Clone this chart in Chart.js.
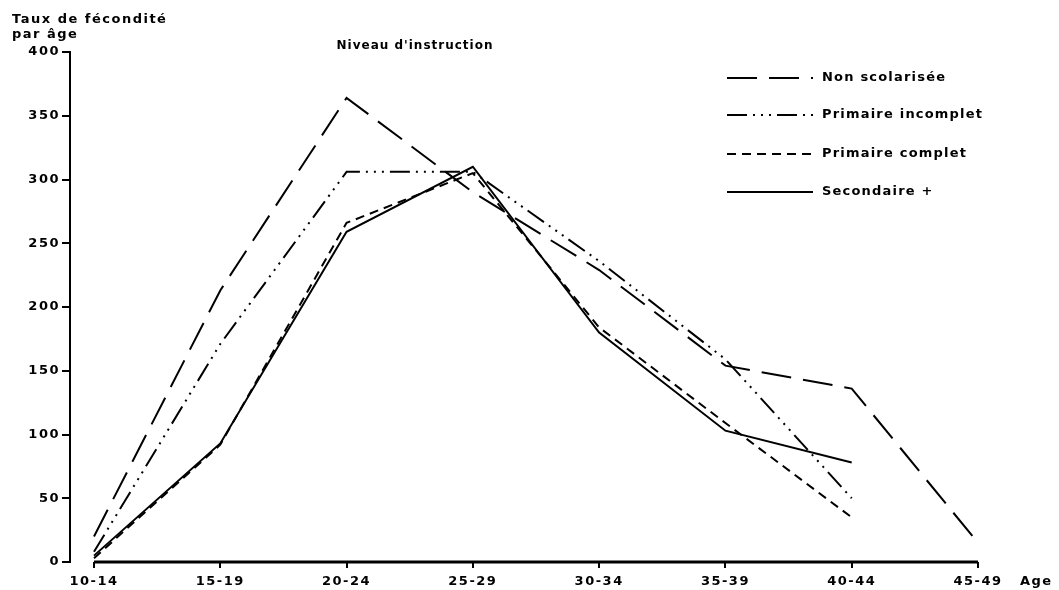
<!DOCTYPE html>
<html>
<head>
<meta charset="utf-8">
<script src="https://cdn.jsdelivr.net/npm/chart.js@4/dist/chart.umd.min.js"></script>
<style>
  body { margin: 0; background: #fff; }
</style>
</head>
<body>
<canvas id="fertChart" width="1059" height="590"></canvas>
<script>
const ageGroups = ["10-14", "15-19", "20-24", "25-29", "30-34", "35-39", "40-44", "45-49"];
const nonScolarisee = [20, 213, 364, 290, 229, 154, 136, 15];
const primaireIncomplet = [8, 171, 306, 306, 236, 159, 50, null];
const primaireComplet = [3, 92, 266, 305, 184, 109, 35, null];
const secondaire = [5, 93, 259, 310, 180, 103, 78, null];
const yTickValues = [0, 50, 100, 150, 200, 250, 300, 350, 400];

const FONT = "bold 13px 'DejaVu Sans'";

const toPoints = arr => arr.map((v, i) => ({ x: i, y: v }));

// petite légende + textes à la main (positions comme sur l'original)
const extras = {
  id: "extras",
  beforeDraw(chart) {
    chart.ctx.letterSpacing = "1.5px";
  },
  afterDraw(chart) {
    const c = chart.ctx;
    const xs = chart.scales.x;
    const ys = chart.scales.y;
    c.save();
    c.letterSpacing = "1.5px";
    c.fillStyle = "#000";
    c.strokeStyle = "#000";

    // axe des x (commence au premier groupe d'âge)
    c.lineWidth = 3;
    c.beginPath();
    c.moveTo(xs.getPixelForValue(0), ys.getPixelForValue(0));
    c.lineTo(xs.getPixelForValue(ageGroups.length - 1), ys.getPixelForValue(0));
    c.stroke();

    c.font = FONT;
    c.textBaseline = "middle";
    c.textAlign = "left";
    c.fillText("Taux de fécondité", 12, 20);
    c.fillText("par âge", 12, 35);
    c.fillText("Age", 1020, 582);
    c.font = "bold 12px 'DejaVu Sans'";
    c.letterSpacing = "1px";
    c.textAlign = "center";
    c.fillText("Niveau d'instruction", 415, 46);

    // légende
    c.font = FONT;
    c.letterSpacing = "1.2px";
    const rows = [78, 115, 154, 192];
    chart.data.datasets.forEach((ds, i) => {
      c.lineWidth = 2;
      c.setLineDash(ds.borderDash || []);
      c.beginPath();
      c.moveTo(727, rows[i]);
      c.lineTo(813, rows[i]);
      c.stroke();
      c.setLineDash([]);
      c.textAlign = "left";
      c.fillText(ds.label, 822, rows[i]);
    });
    c.restore();
  }
};

const lineStyle = {
  borderColor: "#000",
  borderWidth: 2,
  pointRadius: 0,
  fill: false,
  tension: 0,
  spanGaps: false
};

new Chart(document.getElementById("fertChart").getContext("2d"), {
  type: "line",
  data: {
    datasets: [
      { ...lineStyle, label: "Non scolarisée", data: toPoints(nonScolarisee), borderDash: [30, 12] },
      { ...lineStyle, label: "Primaire incomplet", data: toPoints(primaireIncomplet), borderDash: [20, 6, 2, 6, 2, 6, 2, 6] },
      { ...lineStyle, label: "Primaire complet", data: toPoints(primaireComplet), borderDash: [9, 6] },
      { ...lineStyle, label: "Secondaire +", data: toPoints(secondaire) }
    ]
  },
  options: {
    responsive: false,
    animation: false,
    layout: { padding: { top: 52, right: 81, left: 0, bottom: 0 } },
    plugins: {
      legend: { display: false },
      tooltip: { enabled: false }
    },
    scales: {
      x: {
        type: "linear",
        min: -0.19,
        max: ageGroups.length - 1,
        afterBuildTicks: scale => { scale.ticks = ageGroups.map((_, i) => ({ value: i })); },
        afterFit: scale => { scale.height = 28; },
        border: { display: false },
        grid: { drawOnChartArea: false, color: "#000", lineWidth: 2, tickLength: 6 },
        ticks: {
          color: "#000",
          font: { family: "DejaVu Sans", size: 13, weight: "bold" },
          padding: 6,
          maxRotation: 0,
          autoSkip: false,
          callback: v => ageGroups[v]
        }
      },
      y: {
        min: 0,
        max: 400,
        afterBuildTicks: scale => { scale.ticks = yTickValues.map(v => ({ value: v })); },
        afterFit: scale => { scale.width = 70; },
        border: { display: true, color: "#000", width: 2 },
        grid: { drawOnChartArea: false, color: "#000", lineWidth: 2, tickLength: 8 },
        ticks: {
          color: "#000",
          font: { family: "DejaVu Sans", size: 13, weight: "bold" },
          padding: 2
        }
      }
    }
  },
  plugins: [extras]
});
</script>
</body>
</html>
